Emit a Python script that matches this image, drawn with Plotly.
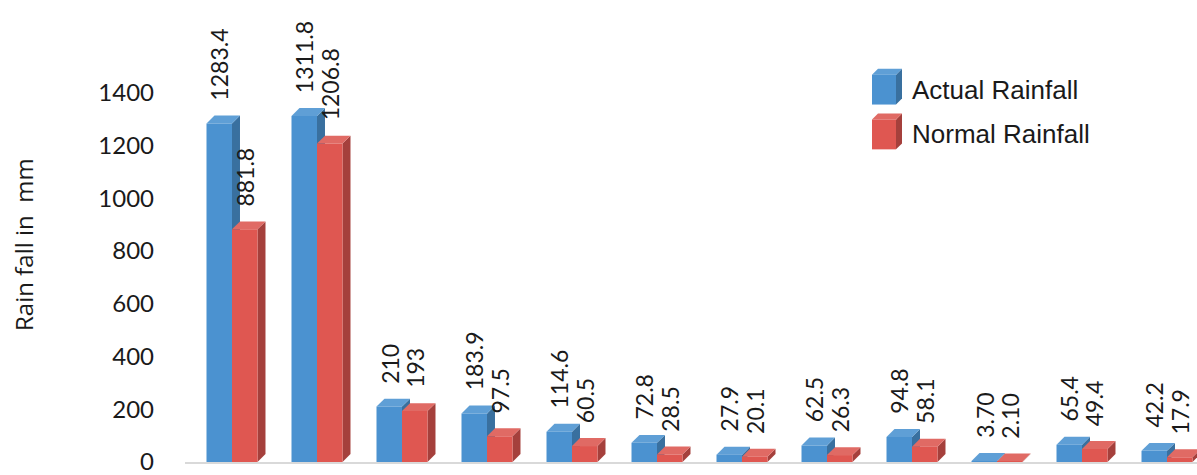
import plotly.graph_objects as go

# Rainfall totals (mm) per station group
stations = ["G1", "G2", "G3", "G4", "G5", "G6", "G7", "G8", "G9", "G10", "G11", "G12"]
actual = [1283.4, 1311.8, 210, 183.9, 114.6, 72.8, 27.9, 62.5, 94.8, 3.70, 65.4, 42.2]
normal = [881.8, 1206.8, 193, 97.5, 60.5, 28.5, 20.1, 26.3, 58.1, 2.10, 49.4, 17.9]
actual_text = ["1283.4", "1311.8", "210", "183.9", "114.6", "72.8", "27.9", "62.5", "94.8", "3.70", "65.4", "42.2"]
normal_text = ["881.8", "1206.8", "193", "97.5", "60.5", "28.5", "20.1", "26.3", "58.1", "2.10", "49.4", "17.9"]
y_ticks = [0, 200, 400, 600, 800, 1000, 1200, 1400]

W, H = 1197, 475
M_L, M_R, M_T, M_B = 185, 0, 0, 11
X_RANGE = [-0.553, 11.353]
Y_RANGE = [0, 1751]

BAR_W = 0.3
DEPTH_X = 0.094   # depth offset in category units
DEPTH_Y = 30      # depth offset in value units

BLUE = dict(front="#4b92d0", side="#39709f", top="#5f9fd6")
RED = dict(front="#df5751", side="#a5403c", top="#e06a64")

pos = list(range(len(stations)))


def px_x(px):
    return (px - M_L) / (W - M_L - M_R)


def px_y(py):
    return (H - M_B - py) / (H - M_T - M_B)


fig = go.Figure()
fig.add_trace(go.Bar(x=pos, y=actual, width=BAR_W, offset=-BAR_W,
                     marker=dict(color=BLUE["front"], line=dict(width=0)),
                     name="Actual Rainfall", showlegend=False, hoverinfo="skip"))
fig.add_trace(go.Bar(x=pos, y=normal, width=BAR_W, offset=0,
                     marker=dict(color=RED["front"], line=dict(width=0)),
                     name="Normal Rainfall", showlegend=False, hoverinfo="skip"))

shapes = []


def depth_faces(x0, v, colors):
    """Side and top faces giving a bar its 3-D look (data coordinates)."""
    x1 = x0 + BAR_W
    side = (f"M {x1},0 L {x1 + DEPTH_X},{DEPTH_Y} L {x1 + DEPTH_X},{v + DEPTH_Y} "
            f"L {x1},{v} Z")
    top = (f"M {x0},{v} L {x1},{v} L {x1 + DEPTH_X},{v + DEPTH_Y} "
           f"L {x0 + DEPTH_X},{v + DEPTH_Y} Z")
    return [
        dict(type="path", path=side, xref="x", yref="y", layer="below",
             fillcolor=colors["side"], line=dict(width=0)),
        dict(type="path", path=top, xref="x", yref="y", layer="below",
             fillcolor=colors["top"], line=dict(width=0)),
    ]


for i, (a, n) in enumerate(zip(actual, normal)):
    shapes += depth_faces(i - BAR_W, a, BLUE)
    shapes += depth_faces(i, n, RED)

annotations = []
LABEL_FONT = dict(family="Lato", size=23, color="#1a1a1a")
for i, (a, n, at, nt) in enumerate(zip(actual, normal, actual_text, normal_text)):
    annotations.append(dict(x=i - BAR_W / 2, y=a, xref="x", yref="y", text=at,
                            textangle=-90, showarrow=False, yanchor="bottom",
                            xanchor="center", yshift=21, font=LABEL_FONT))
    annotations.append(dict(x=i + BAR_W / 2, y=n, xref="x", yref="y", text=nt,
                            textangle=-90, showarrow=False, yanchor="bottom",
                            xanchor="center", yshift=21, font=LABEL_FONT))

# Axis title
annotations.append(dict(x=px_x(24), y=px_y(246), xref="paper", yref="paper",
                        text="Rain fall in\u00a0\u00a0mm", textangle=-90, showarrow=False,
                        xanchor="center", yanchor="middle",
                        font=dict(family="Open Sans", size=24, color="#1a1a1a")))

# Legend with cube-shaped keys
legend_items = [("Actual Rainfall", BLUE, 75), ("Normal Rainfall", RED, 120)]
for label, colors, top_px in legend_items:
    x0, x1, d = 872, 896, 6
    y0, y1 = top_px, top_px + 30
    shapes.append(dict(type="path", xref="paper", yref="paper",
                       path=(f"M {px_x(x1)},{px_y(y1)} L {px_x(x1 + d)},{px_y(y1 - d)} "
                             f"L {px_x(x1 + d)},{px_y(y0 - d)} L {px_x(x1)},{px_y(y0)} Z"),
                       fillcolor=colors["side"], line=dict(width=0)))
    shapes.append(dict(type="path", xref="paper", yref="paper",
                       path=(f"M {px_x(x0)},{px_y(y0)} L {px_x(x1)},{px_y(y0)} "
                             f"L {px_x(x1 + d)},{px_y(y0 - d)} L {px_x(x0 + d)},{px_y(y0 - d)} Z"),
                       fillcolor=colors["top"], line=dict(width=0)))
    shapes.append(dict(type="rect", xref="paper", yref="paper",
                       x0=px_x(x0), x1=px_x(x1), y0=px_y(y1), y1=px_y(y0),
                       fillcolor=colors["front"], line=dict(width=0)))
    annotations.append(dict(x=px_x(910), y=px_y(top_px + 15), xref="paper", yref="paper",
                            text=label, showarrow=False, xanchor="left", yanchor="middle",
                            font=dict(family="Liberation Sans", size=26, color="#1a1a1a")))

fig.update_layout(
    width=W, height=H,
    margin=dict(l=M_L, r=M_R, t=M_T, b=M_B),
    paper_bgcolor="white", plot_bgcolor="white",
    barmode="overlay",
    showlegend=False,
    shapes=shapes,
    annotations=annotations,
    xaxis=dict(range=X_RANGE, showticklabels=False, ticks="", showgrid=False,
               zeroline=False, showline=True, linecolor="#d9d9d9", linewidth=2,
               layer="below traces"),
    yaxis=dict(range=Y_RANGE, tickvals=y_ticks, showgrid=False, zeroline=False,
               showline=False, ticks="", ticklabelstandoff=30,
               ticklabeloverflow="allow",
               tickfont=dict(family="Lato", size=24, color="#1a1a1a")),
)

fig.write_html("out.html")
